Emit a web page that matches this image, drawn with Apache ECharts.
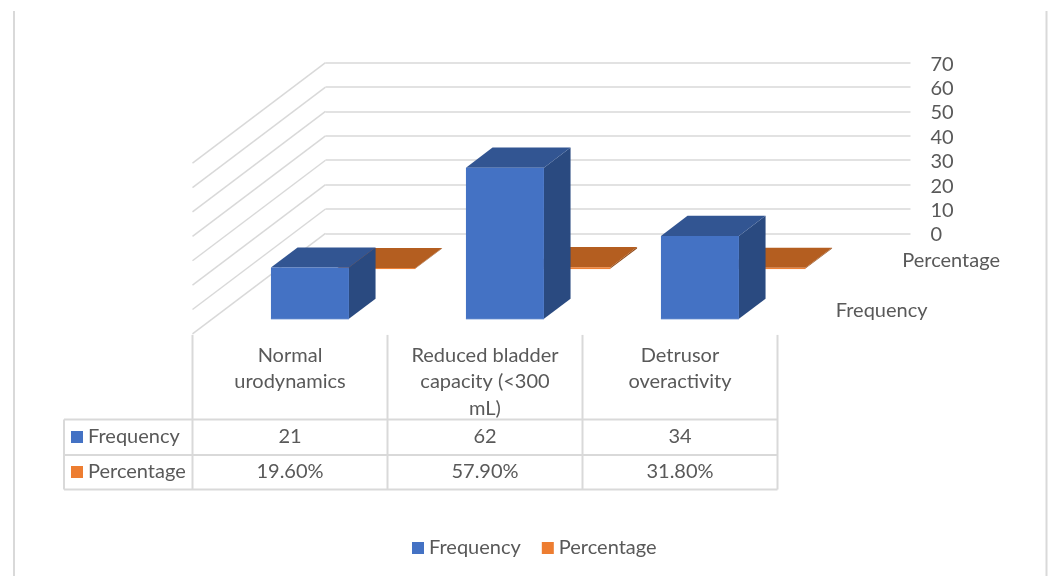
<!DOCTYPE html>
<html>
<head>
<meta charset="utf-8">
<style>html,body{margin:0;padding:0;background:#fff}#chart{width:1054px;height:576px}</style>
<script src="https://cdn.jsdelivr.net/npm/echarts@6/dist/echarts.min.js"></script>
</head>
<body>
<div id="chart"></div>
<script>
// Urodynamic findings: 3D-style clustered columns with a data table underneath
const categories = ['Normal\nurodynamics', 'Reduced bladder\ncapacity (<300\nmL)', 'Detrusor\noveractivity'];
const frequency = [21, 62, 34];
const percentage = [19.6, 57.9, 31.8];
const yTicks = [0, 10, 20, 30, 40, 50, 60, 70];
const seriesNames = ['Frequency', 'Percentage'];

const FONT = 'Lato';
const FONT_SIZE = 20;
const TEXT = '#595959';
const LINE = '#D9D9D9';
const BLUE = { base: '#4472C4', top: '#325592', side: '#2A4A80' };
const ORANGE = { base: '#ED7D31', top: '#B45E20', side: '#8F4A18' };

// Projection of the floor: a point at depth d (0 = front edge, 1 = back wall)
const DEPTH_X = 133, DEPTH_Y = 100.5;
const shift = (p, d) => [p[0] - DEPTH_X * (1 - d), p[1] + DEPTH_Y * (1 - d)];
const BAR_WIDTH = 0.4;     // share of the category band
const SLOTS = [[0.15, 0.35], [0.65, 0.85]];  // depth range of each series

function column3d(slot, colors, scale) {
  return function (params, api) {
    const cat = api.value(0);
    const val = api.value(1) * scale;
    const half = api.size([1, 0])[0] * BAR_WIDTH / 2;
    const base = api.coord([cat, 0]);
    const top = api.coord([cat, val]);
    const [d0, d1] = SLOTS[slot];
    const pt = (xo, ref, d) => shift([ref[0] + xo, ref[1]], d);
    const poly = (points, fill) => ({ type: 'polygon', shape: { points }, style: { fill } });
    return {
      type: 'group',
      children: [
        poly([pt(half, base, d0), pt(half, base, d1), pt(half, top, d1), pt(half, top, d0)], colors.side),
        poly([pt(-half, top, d0), pt(half, top, d0), pt(half, top, d1), pt(-half, top, d1)], colors.top),
        poly([pt(-half, base, d0), pt(half, base, d0), pt(half, top, d0), pt(-half, top, d0)], colors.base),
        // Front rim keeps the very flat columns visible
        { type: 'line', shape: { x1: pt(-half, base, d0)[0], y1: pt(-half, base, d0)[1], x2: pt(half, base, d0)[0], y2: pt(half, base, d0)[1] },
          style: { stroke: colors.base, lineWidth: 1 } }
      ]
    };
  };
}

function sideWall(params, api) {
  const back = api.coord([0, api.value(1)]);
  back[0] -= api.size([1, 0])[0] / 2;
  const front = shift(back, 0);
  return { type: 'line', shape: { x1: back[0], y1: back[1], x2: front[0], y2: front[1] },
           style: { stroke: LINE, lineWidth: 1.5 } };
}

function text(str, x, y, align) {
  return { type: 'text', style: { text: str, x, y, fill: TEXT, fontFamily: FONT, fontSize: FONT_SIZE,
           align: align || 'center', verticalAlign: 'middle', lineHeight: 26.5 } };
}
function seg(x1, y1, x2, y2) {
  return { type: 'line', shape: { x1, y1, x2, y2 }, style: { stroke: LINE, lineWidth: 2 } };
}

// Data table under the floor, with its columns aligned to the category bands
function dataTable(params, api) {
  const band = api.size([1, 0])[0];
  const center = i => shift(api.coord([i, 0]), 0);
  const floorY = center(0)[1];
  const left = center(0)[0] - band / 2;
  const rows = [419.5, 455, 489.5];
  const headX = 64;
  const kids = [];
  categories.forEach((c, i) => kids.push(seg(left + band * i, floorY + 1, left + band * i, rows[2])));
  const right = left + band * categories.length;
  kids.push(seg(right, floorY + 1, right, rows[2]));
  kids.push(seg(headX, rows[0], headX, rows[2]));
  rows.forEach(y => kids.push(seg(headX, y, right, y)));

  categories.forEach((c, i) => {
    const x = center(i)[0];
    kids.push({ type: 'text', style: { text: c, x, y: 342, fill: TEXT, fontFamily: FONT, fontSize: FONT_SIZE,
                align: 'center', verticalAlign: 'top', lineHeight: 26.5 } });
    kids.push(text(String(frequency[i]), x, 437));
    kids.push(text(percentage[i].toFixed(2) + '%', x, 472));
  });
  [[BLUE.base, 437], [ORANGE.base, 472]].forEach(([fill, y], r) => {
    kids.push({ type: 'rect', shape: { x: 71, y: y - 6, width: 12, height: 12 }, style: { fill } });
    kids.push(text(seriesNames[r], 88, y, 'left'));
  });
  // Depth-axis names, beside the floor at the middle of each series' slot
  SLOTS.forEach((s, r) => {
    const d = (s[0] + s[1]) / 2;
    const p = shift(api.coord([categories.length - 1, 0]), d);
    kids.push(text(seriesNames[r], p[0] + band / 2 + 25, p[1] + 2, 'left'));
  });
  return { type: 'group', children: kids };
}

const chart = echarts.init(document.getElementById('chart'), null, { renderer: 'canvas' });
chart.setOption({
  animation: false,
  backgroundColor: '#ffffff',
  textStyle: { fontFamily: FONT },
  grid: { left: 325.5, width: 585, top: 62.7, height: 170.7 },
  xAxis: { type: 'category', data: categories, show: false },
  yAxis: {
    type: 'value', min: 0, max: 70, interval: 10, position: 'right',
    axisLine: { show: false }, axisTick: { show: false },
    axisLabel: { color: TEXT, fontSize: FONT_SIZE, fontFamily: FONT, margin: 20, verticalAlign: 'top', lineHeight: 3 },
    splitLine: { show: true, lineStyle: { color: LINE, width: 1.5 } }
  },
  legend: {
    data: seriesNames, left: 407, top: 533, icon: 'rect', itemWidth: 12, itemHeight: 12, itemGap: 21,
    textStyle: { color: TEXT, fontSize: FONT_SIZE, fontFamily: FONT }, selectedMode: false
  },
  graphic: [
    { type: 'line', shape: { x1: 14, y1: 11, x2: 14, y2: 576 }, style: { stroke: LINE, lineWidth: 2 }, silent: true },
    { type: 'line', shape: { x1: 1046.5, y1: 11, x2: 1046.5, y2: 576 }, style: { stroke: LINE, lineWidth: 2 }, silent: true }
  ],
  series: [
    { type: 'custom', name: 'wall', z: 1, silent: true, renderItem: sideWall, data: yTicks.map(t => [0, t]) },
    { type: 'custom', name: 'table', z: 1, silent: true, renderItem: dataTable, data: [[0, 0]] },
    { type: 'custom', name: seriesNames[1], z: 2, itemStyle: { color: ORANGE.base },
      renderItem: column3d(1, ORANGE, 0.01), data: percentage.map((v, i) => [i, v]) },
    { type: 'custom', name: seriesNames[0], z: 3, itemStyle: { color: BLUE.base },
      renderItem: column3d(0, BLUE, 1), data: frequency.map((v, i) => [i, v]) }
  ]
});
</script>
</body>
</html>
